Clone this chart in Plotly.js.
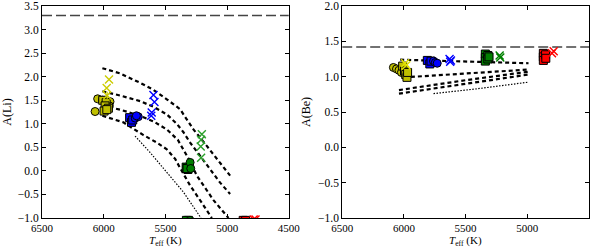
<!DOCTYPE html>
<html>
<head>
<meta charset="utf-8">
<script src="https://cdn.plot.ly/plotly-3.0.1.min.js"></script>
<style>html,body{margin:0;padding:0;background:#fff;}#chart{width:600px;height:247px;}</style>
</head>
<body>
<div id="chart"></div>
<script>
// ---------- Left panel: A(Li) ----------
const liSolar = 3.3;
const liYelCircT = [6070, 6049, 6010, 5949, 5955];
const liYelCircA = [1.26, 1.53, 1.50, 1.47, 1.38];
const liYelSqT = [6008, 5980, 5989, 5962, 5997, 5975];
const liYelSqA = [1.50, 1.45, 1.38, 1.33, 1.27, 1.30];
const liYelXT = [5957, 5976, 5972];
const liYelXA = [1.94, 1.76, 1.60];
const liBluSqT = [5790, 5775, 5765];
const liBluSqA = [1.13, 1.03, 1.08];
const liBluCircT = [5745, 5720, 5735];
const liBluCircA = [1.12, 1.15, 1.17];
const liBluXT = [5597, 5589, 5611, 5615];
const liBluXA = [1.61, 1.46, 1.24, 1.17];
const liGrnSqT = [5332, 5318, 5325, 5314, 5330];
const liGrnSqA = [0.08, 0.03, 0.05, -1.05, -1.05];
const liGrnCircT = [5300, 5295, 5300];
const liGrnCircA = [0.18, 0.05, -1.05];
const liGrnXT = [5205, 5211, 5214, 5211];
const liGrnXA = [0.78, 0.66, 0.52, 0.28];
const liRedSqT = [4870, 4850];
const liRedSqA = [-1.05, -1.05];
const liRedXT = [4785, 4770];
const liRedXA = [-1.03, -1.03];

const liM1T = [6011, 5868, 5705, 5597, 5489, 5381, 5354, 5273, 5165, 5057, 4976];
const liM1A = [2.18, 2.07, 1.87, 1.72, 1.52, 1.31, 1.20, 0.88, 0.53, 0.18, -0.10];
const liM2T = [6011, 5868, 5705, 5597, 5489, 5408, 5354, 5300, 5219, 5111, 5057, 4976];
const liM2A = [1.69, 1.60, 1.48, 1.36, 1.20, 1.00, 0.82, 0.60, 0.32, -0.05, -0.25, -0.49];
const liM3T = [6011, 5868, 5705, 5597, 5489, 5400, 5354, 5300, 5246, 5111, 4989];
const liM3A = [1.38, 1.30, 1.17, 1.05, 0.88, 0.66, 0.45, 0.20, -0.10, -0.62, -1.0];
const liM4T = [6011, 5841, 5678, 5570, 5489, 5420, 5381, 5300, 5210, 5124];
const liM4A = [1.17, 1.03, 0.76, 0.60, 0.46, 0.25, 0.06, -0.31, -0.66, -1.0];
const liDotT = [5746, 5624, 5489, 5354, 5212];
const liDotA = [0.74, 0.39, -0.03, -0.45, -1.0];

// ---------- Right panel: A(Be) ----------
const beSolar = 1.42;
const beYelCircT = [6085, 6060, 6040, 6020];
const beYelCircA = [1.13, 1.11, 1.09, 1.06];
const beYelSqT = [6010, 5995, 5985, 5975, 5970];
const beYelSqA = [1.15, 1.08, 1.03, 0.99, 1.06];
const beYelXT = [5990, 5980];
const beYelXA = [1.19, 1.16];
const beBluSqT = [5810, 5790, 5780];
const beBluSqA = [1.23, 1.18, 1.22];
const beBluCircT = [5760, 5745, 5730];
const beBluCircA = [1.22, 1.20, 1.19];
const beBluXT = [5630, 5619, 5625];
const beBluXA = [1.25, 1.23, 1.21];
const beGrnSqT = [5340, 5340, 5340, 5320, 5320, 5310];
const beGrnSqA = [1.32, 1.27, 1.22, 1.30, 1.25, 1.28];
const beGrnXT = [5224, 5219];
const beGrnXA = [1.30, 1.27];
const beRedSqT = [4870, 4870, 4870, 4852, 4850];
const beRedSqA = [1.33, 1.28, 1.23, 1.31, 1.26];
const beRedXT = [4800, 4786];
const beRedXA = [1.33, 1.36];

const beM1T = [6030, 5500, 4990];
const beM1A = [1.24, 1.21, 1.19];
const beM2T = [6000, 5500, 4990];
const beM2A = [0.99, 1.04, 1.10];
const beM3T = [6040, 5500, 4990];
const beM3A = [0.81, 0.95, 1.07];
const beM4T = [6040, 5500, 4990];
const beM4A = [0.76, 0.90, 1.03];
const beDotT = [5760, 5400, 5000];
const beDotA = [0.76, 0.83, 0.92];

const tickT = [6500, 6000, 5500, 5000, 4500];
const xTitle = '<i>T</i><sub>eff</sub> (K)';

const YEL = '#bfbf00', BLU = '#0000ff', GRN = '#008000', RED = '#ff0000';
const FONT = 'Liberation Serif, DejaVu Serif, serif';

function line(x, y, xa, ya, dash, w) {
  return {x: x, y: y, xaxis: xa, yaxis: ya, mode: 'lines', type: 'scatter',
    line: {color: '#000', width: w, dash: dash}, hoverinfo: 'skip', showlegend: false};
}
function pts(x, y, xa, ya, sym, col, sz) {
  return {x: x, y: y, xaxis: xa, yaxis: ya, mode: 'markers', type: 'scatter', showlegend: false,
    marker: {symbol: sym, size: sz || 8, color: col, line: {color: '#000', width: 1}}};
}
function xs(x, y, xa, ya, col) {
  return {x: x, y: y, xaxis: xa, yaxis: ya, mode: 'markers', type: 'scatter', showlegend: false,
    marker: {symbol: 'x-thin', size: 8, color: col, line: {color: col, width: 1.4}}};
}
function hline(v, xa, ya) {
  return {x: [6500, 4500], y: [v, v], xaxis: xa, yaxis: ya, mode: 'lines', type: 'scatter',
    line: {color: '#444', width: 1.5, dash: '10px,4px'}, showlegend: false};
}

const MDASH = '4px,3px';
const DOTS = '1.5px,1.5px';
const traces = [
  hline(liSolar, 'x', 'y'),
  line(liM1T, liM1A, 'x', 'y', MDASH, 2.2),
  line(liM2T, liM2A, 'x', 'y', MDASH, 2.2),
  line(liM3T, liM3A, 'x', 'y', MDASH, 2.2),
  line(liM4T, liM4A, 'x', 'y', MDASH, 2.2),
  line(liDotT, liDotA, 'x', 'y', DOTS, 1.2),
  pts(liYelCircT, liYelCircA, 'x', 'y', 'circle', YEL),
  pts(liYelSqT, liYelSqA, 'x', 'y', 'square', YEL),
  Object.assign(xs(liYelXT, liYelXA, 'x', 'y', '#cccc00'),
    {error_y: {type: 'data', array: [0, 0, 0.08], color: '#cccc00', thickness: 1.2, width: 0}}),
  pts(liBluSqT, liBluSqA, 'x', 'y', 'square', BLU),
  pts(liBluCircT, liBluCircA, 'x', 'y', 'circle', BLU),
  xs(liBluXT, liBluXA, 'x', 'y', BLU),
  pts(liGrnSqT, liGrnSqA, 'x', 'y', 'square', GRN),
  pts(liGrnCircT, liGrnCircA, 'x', 'y', 'circle', GRN),
  xs(liGrnXT, liGrnXA, 'x', 'y', '#2ca02c'),
  pts(liRedSqT, liRedSqA, 'x', 'y', 'square', RED),
  xs(liRedXT, liRedXA, 'x', 'y', RED),

  hline(beSolar, 'x2', 'y2'),
  line(beM1T, beM1A, 'x2', 'y2', MDASH, 2.2),
  line(beM2T, beM2A, 'x2', 'y2', MDASH, 2.2),
  line(beM3T, beM3A, 'x2', 'y2', MDASH, 2.2),
  line(beM4T, beM4A, 'x2', 'y2', MDASH, 2.2),
  line(beDotT, beDotA, 'x2', 'y2', DOTS, 1.2),
  pts(beYelCircT, beYelCircA, 'x2', 'y2', 'circle', YEL),
  pts(beYelSqT, beYelSqA, 'x2', 'y2', 'square', YEL),
  xs(beYelXT, beYelXA, 'x2', 'y2', '#e0e000'),
  pts(beBluSqT, beBluSqA, 'x2', 'y2', 'square', BLU),
  pts(beBluCircT, beBluCircA, 'x2', 'y2', 'circle', BLU),
  xs(beBluXT, beBluXA, 'x2', 'y2', BLU),
  pts(beGrnSqT, beGrnSqA, 'x2', 'y2', 'square', GRN),
  xs(beGrnXT, beGrnXA, 'x2', 'y2', GRN),
  pts(beRedSqT, beRedSqA, 'x2', 'y2', 'square', RED),
  xs(beRedXT, beRedXA, 'x2', 'y2', RED)
];

function xax(dom, anchor) {
  return {domain: dom, anchor: anchor, range: [6500, 4500], tickvals: tickT,
    ticks: 'inside', ticklen: 4, tickcolor: '#000', mirror: 'ticks', showline: true,
    linecolor: '#000', linewidth: 1, showgrid: false, zeroline: false,
    tickfont: {family: FONT, size: 11, color: '#000'}};
}
function yax(rng, anchor, label) {
  return {domain: [0, 1], anchor: anchor, range: rng, dtick: 0.5, tickformat: '.1f',
    ticks: 'inside', ticklen: 4, tickcolor: '#000', mirror: 'ticks', showline: true,
    linecolor: '#000', linewidth: 1, showgrid: false, zeroline: false,
    tickfont: {family: FONT, size: 11.5, color: '#000'},
    title: {text: label, font: {family: FONT, size: 12, color: '#000'}, standoff: 4}};
}

const layout = {
  width: 600, height: 247,
  margin: {l: 42, r: 11, t: 6, b: 29},
  paper_bgcolor: '#fff', plot_bgcolor: '#fff',
  showlegend: false,
  xaxis: xax([0, 0.4513], 'y'),
  yaxis: yax([-1, 3.5], 'x', 'A(Li)'),
  xaxis2: xax([0.5488, 1], 'y2'),
  yaxis2: yax([-1, 2], 'x2', 'A(Be)'),
  annotations: [
    {text: xTitle, xref: 'x domain', yref: 'paper', x: 0.5, y: -0.071, xanchor: 'center', yanchor: 'top',
     showarrow: false, borderpad: 0, font: {family: FONT, size: 11, color: '#000'}},
    {text: xTitle, xref: 'x2 domain', yref: 'paper', x: 0.5, y: -0.071, xanchor: 'center', yanchor: 'top',
     showarrow: false, borderpad: 0, font: {family: FONT, size: 11, color: '#000'}}
  ]
};

Plotly.newPlot('chart', traces, layout, {staticPlot: true, displayModeBar: false});
</script>
</body>
</html>
